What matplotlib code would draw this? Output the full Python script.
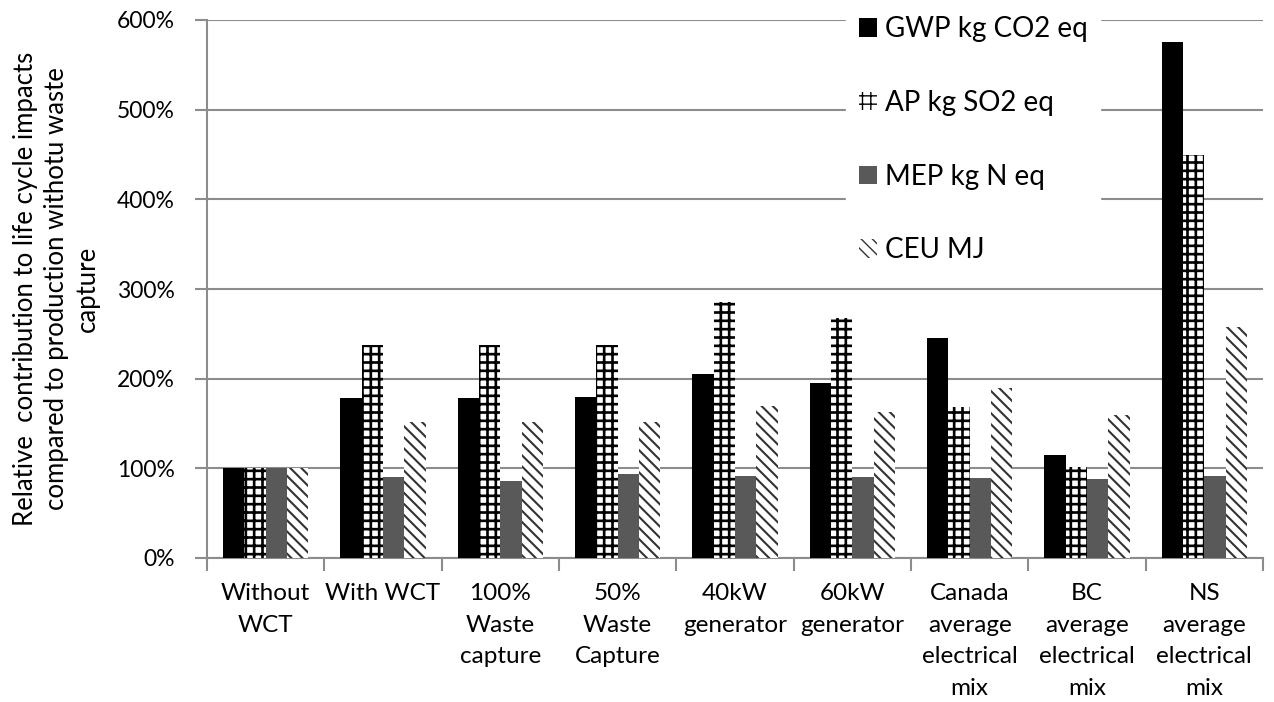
import matplotlib
matplotlib.use('Agg')
import matplotlib.pyplot as plt
import numpy as np

categories = ['Without\nWCT', 'With WCT', '100%\nWaste\ncapture', '50%\nWaste\nCapture',
              '40kW\ngenerator', '60kW\ngenerator', 'Canada\naverage\nelectrical\nmix',
              'BC\naverage\nelectrical\nmix', 'NS\naverage\nelectrical\nmix']
gwp = [100, 178, 178, 179, 205, 195, 245, 115, 576]
ap = [100, 238, 238, 238, 285, 268, 168, 101, 450]
mep = [100, 90, 86, 94, 91, 90, 89, 88, 92]
ceu = [100, 152, 152, 152, 170, 163, 190, 160, 258]
series_names = ['GWP kg CO2 eq', 'AP kg SO2 eq', 'MEP kg N eq', 'CEU MJ']

plt.rcParams['font.family'] = ['Lato', 'DejaVu Sans']

fig = plt.figure(figsize=(12.74, 7.02), dpi=100)
ax = fig.add_axes([207 / 1274, 1 - 558 / 702, (1263 - 207) / 1274, (558 - 20) / 702])

x = np.arange(len(categories))
w = 0.182
styles = [dict(color='black'),
          dict(facecolor='white', edgecolor='black', hatch='++', linewidth=0),
          dict(color='#595959'),
          dict(facecolor='white', edgecolor='#333333', hatch='\\\\\\', linewidth=0)]
hatch_lw = [1.0, 1.9, 1.0, 1.5]
for i, (vals, name, st) in enumerate(zip([gwp, ap, mep, ceu], series_names, styles)):
    with plt.rc_context({'hatch.linewidth': hatch_lw[i]}):
        ax.bar(x + (i - 1.5) * w, vals, w, label=name, zorder=3, **st)

ax.set_xlim(-0.5, len(categories) - 0.5)
ax.set_ylim(0, 600)
ax.set_yticks(range(0, 601, 100))
ax.set_yticklabels([f'{v}%' for v in range(0, 601, 100)], fontsize=16.5)
ax.set_xticks(x)
ax.set_xticklabels(categories, fontsize=17.5, va='top', linespacing=1.62)
ax.set_xticks(np.arange(-0.5, len(categories), 1), minor=True)
ax.tick_params(axis='x', which='major', length=0, pad=18)
ax.tick_params(axis='x', which='minor', length=9, color='#8c8c8c', width=1.5)
ax.tick_params(axis='y', length=9, color='#8c8c8c', width=1.5, pad=14)
ax.grid(axis='y', color='#8c8c8c', linewidth=1.5, zorder=0)
ax.set_axisbelow(True)
for s in ['top', 'right']:
    ax.spines[s].set_visible(False)
for s in ['left', 'bottom']:
    ax.spines[s].set_color('#8c8c8c')
    ax.spines[s].set_linewidth(1.5)

ax.set_ylabel('Relative  contribution to life cycle impacts\ncompared to production withotu waste\ncapture',
              fontsize=18.5, linespacing=1.3)
ax.yaxis.set_label_coords(-0.101, 0.5)

leg = ax.legend(loc='upper left', bbox_to_anchor=(846 / 1274, 0.995), bbox_transform=fig.transFigure,
                fontsize=20, frameon=True, framealpha=1, edgecolor='white', fancybox=False,
                handlelength=0.65, handleheight=0.65, handletextpad=0.3, labelspacing=1.72,
                borderpad=0.45, borderaxespad=0)
leg.set_zorder(5)

plt.savefig('out.png', dpi=100)
